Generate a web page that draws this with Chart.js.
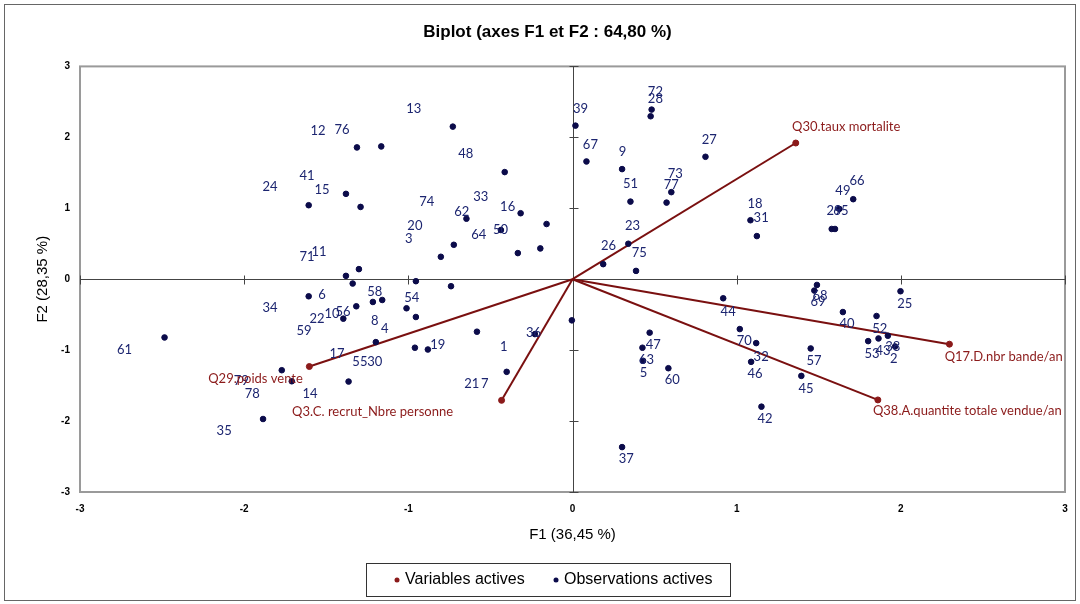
<!DOCTYPE html>
<html lang="fr">
<head>
<meta charset="UTF-8">
<title>Biplot (axes F1 et F2 : 64,80 %)</title>
<script src="https://cdn.jsdelivr.net/npm/chart.js"></script>
<style>
    html, body { margin: 0; padding: 0; background: #fff; }
</style>
</head>
<body>
<canvas id="biplot" width="1080" height="604"></canvas>
<script>
// --- Observations actives (F1, F2) ---
const obsX = [-1.607, -1.313, -1.165, -0.729, -0.413, -1.380, -1.291, -0.316, -0.646, -0.158,
              -0.436, 0.018, -0.723, -0.802, -0.333, -0.196, -1.380, -1.301, -1.339, -0.954,
              -0.740, -1.607, -2.485, -1.771, -1.710, -1.364, -1.885, -1.216, -1.159, -1.317,
              -1.396, -1.011, -0.954, -1.198, -0.960, -0.881, -0.582, -0.229, -0.004, -0.401,
              0.482, 0.476, 0.085, 0.302, 0.810, 0.602, 0.353, 0.573, 1.084, 1.123,
              1.710, 1.625, 1.579, 1.599, 0.340, 0.187, 0.387, 0.918, 1.489, 1.473,
              0.470, 0.426, 0.430, 0.584, 1.019, 1.119, 1.088, 1.451, 1.394, 1.151,
              0.302, 1.998, 1.647, 1.852, 1.801, 1.864, 1.921, 1.965];
const obsY = [1.043, 1.858, 1.872, 2.151, 1.510, 1.203, 1.019, 0.930, 0.853, 0.778,
              0.693, 2.165, 0.485, 0.316, 0.368, 0.434, 0.047, 0.142, -0.061, -0.028,
              -0.099, -0.241, -0.821, -1.283, -1.439, -1.443, -1.971, -0.321, -0.293, -0.382,
              -0.556, -0.410, -0.533, -0.887, -0.966, -0.991, -0.740, -0.774, -0.580, -1.306,
              2.391, 2.297, 1.660, 1.552, 1.726, 1.227, 1.094, 1.080, 0.831, 0.608,
              1.128, 0.991, 0.708, 0.708, 0.500, 0.212, 0.117, -0.269, -0.081, -0.160,
              -0.754, -0.966, -1.150, -1.255, -0.703, -0.901, -1.165, -0.976, -1.363, -1.797,
              -2.367, -0.170, -0.463, -0.519, -0.873, -0.835, -0.797, -0.948];

// observation labels, where they sit on the picture
const labelText = ['12', '76', '13', '41', '24', '15', '48', '33', '74', '16',
                   '62', '20', '64', '50', '3', '72', '28', '39', '67', '9',
                   '27', '73', '77', '51', '23', '18', '31', '66', '49', '29',
                   '65', '71', '11', '6', '34', '22', '59', '61', '10', '56',
                   '58', '54', '8', '4', '19', '1', '36', '17', '55', '30',
                   '26', '75', '44', '68', '69', '47', '63', '5', '60', '70',
                   '32', '46', '57', '45', '25', '40', '52', '53', '43', '38',
                   '2', '79', '78', '14', '35', '21', '7', '42', '37'];
const labelX = [-1.550, -1.404, -0.967, -1.617, -1.842, -1.526, -0.650, -0.559, -0.888, -0.395,
                -0.675, -0.960, -0.571, -0.438, -0.997, 0.505, 0.505, 0.049, 0.109, 0.304,
                0.833, 0.626, 0.602, 0.353, 0.365, 1.112, 1.149, 1.733, 1.647, 1.593,
                1.635, -1.617, -1.544, -1.526, -1.842, -1.556, -1.635, -2.729, -1.465, -1.398,
                -1.204, -0.979, -1.204, -1.143, -0.821, -0.419, -0.237, -1.435, -1.295, -1.204,
                0.219, 0.407, 0.948, 1.508, 1.495, 0.492, 0.450, 0.432, 0.608, 1.046,
                1.149, 1.112, 1.471, 1.422, 2.024, 1.672, 1.872, 1.824, 1.891, 1.951,
                1.957, -2.018, -1.951, -1.599, -2.122, -0.614, -0.535, 1.173, 0.328];
const labelY = [2.094, 2.108, 2.406, 1.457, 1.302, 1.259, 1.769, 1.160, 1.090, 1.019,
                0.948, 0.750, 0.623, 0.693, 0.566, 2.646, 2.547, 2.406, 1.896, 1.797,
                1.967, 1.486, 1.330, 1.344, 0.750, 1.061, 0.863, 1.387, 1.245, 0.962,
                0.962, 0.311, 0.382, -0.226, -0.410, -0.552, -0.722, -0.991, -0.481, -0.453,
                -0.184, -0.269, -0.580, -0.693, -0.920, -0.948, -0.750, -1.047, -1.160, -1.160,
                0.467, 0.368, -0.453, -0.241, -0.325, -0.920, -1.132, -1.316, -1.415, -0.863,
                -1.090, -1.330, -1.146, -1.542, -0.340, -0.623, -0.693, -1.047, -1.005, -0.948,
                -1.118, -1.429, -1.613, -1.613, -2.137, -1.472, -1.472, -1.967, -2.533];

// --- Variables actives ---
const varNames = ['Q30.taux mortalite', 'Q17.D.nbr bande/an', 'Q38.A.quantite totale vendue/an',
                  'Q29.poids vente', 'Q3.C. recrut_Nbre personne'];
const varX = [1.360, 2.296, 1.860, -1.603, -0.432];
const varY = [1.920, -0.916, -1.702, -1.231, -1.708];
const varLabelX = [1.337, 2.267, 1.830, -2.219, -1.708];
const varLabelY = [2.151, -1.090, -1.854, -1.401, -1.868];

const axisMin = -3;
const axisMax = 3;

const varColor = '#8b1a1a';
const obsColor = '#0b0b4a';
const obsLabelColor = '#1c2570';

const datasets = [
    {
        label: 'Variables actives',
        data: varX.map((x, i) => ({ x: x, y: varY[i] })),
        backgroundColor: varColor,
        borderColor: varColor,
        pointRadius: 3,
        showLine: false
    },
    {
        label: 'Observations actives',
        data: obsX.map((x, i) => ({ x: x, y: obsY[i] })),
        backgroundColor: obsColor,
        borderColor: obsColor,
        pointRadius: 2.8,
        showLine: false
    }
];
// one segment from the origin to each variable
varX.forEach((x, i) => {
    datasets.push({
        label: '_vec',
        data: [{ x: 0, y: 0 }, { x: x, y: varY[i] }],
        borderColor: '#7a1010',
        borderWidth: 2,
        pointRadius: 0,
        showLine: true
    });
});

const decor = {
    id: 'decor',
    beforeDraw(chart) {
        const c = chart.ctx;
        c.save();
        c.fillStyle = '#fff';
        c.fillRect(0, 0, chart.width, chart.height);
        c.strokeStyle = '#666';
        c.lineWidth = 1;
        c.strokeRect(4.5, 4.5, chart.width - 9, chart.height - 8);
        c.restore();
    },
    beforeDatasetsDraw(chart) {
        const c = chart.ctx, a = chart.chartArea;
        const xs = chart.scales.x, ys = chart.scales.y;
        c.save();
        c.strokeStyle = '#9a9a9a';
        c.lineWidth = 2;
        c.strokeRect(a.left, a.top, a.right - a.left, a.bottom - a.top);
        // axes through the origin
        const x0 = Math.round(xs.getPixelForValue(0)) + 0.5;
        const y0 = Math.round(ys.getPixelForValue(0)) + 0.5;
        c.strokeStyle = '#444';
        c.lineWidth = 1;
        c.beginPath();
        c.moveTo(x0, a.top); c.lineTo(x0, a.bottom);
        c.moveTo(a.left, y0); c.lineTo(a.right, y0);
        for (let v = axisMin; v <= axisMax; v++) {
            const py = Math.round(ys.getPixelForValue(v)) + 0.5;
            c.moveTo(x0 - 4, py); c.lineTo(x0 + 5, py);
            const px = Math.round(xs.getPixelForValue(v)) + 0.5;
            c.moveTo(px, y0 - 4); c.lineTo(px, y0 + 5);
        }
        c.stroke();
        c.restore();
    },
    afterDatasetsDraw(chart) {
        const c = chart.ctx;
        const xs = chart.scales.x, ys = chart.scales.y;
        c.save();
        c.font = '13px Lato, "Open Sans", sans-serif';
        c.textAlign = 'center';
        c.textBaseline = 'middle';
        c.fillStyle = obsLabelColor;
        labelText.forEach((t, i) => {
            c.fillText(t, xs.getPixelForValue(labelX[i]), ys.getPixelForValue(labelY[i]));
        });
        c.textAlign = 'left';
        c.fillStyle = varColor;
        varNames.forEach((t, i) => {
            c.fillText(t, xs.getPixelForValue(varLabelX[i]), ys.getPixelForValue(varLabelY[i]));
        });
        c.restore();
    },
    afterDraw(chart) {
        // legend in a box under the plot
        const c = chart.ctx;
        const box = { left: 366.5, top: 563.5, width: 364, height: 33 };
        c.save();
        c.strokeStyle = '#333';
        c.lineWidth = 1;
        c.strokeRect(box.left, box.top, box.width, box.height);
        c.font = '16px "Liberation Sans", Arial, sans-serif';
        c.textBaseline = 'middle';
        c.textAlign = 'left';
        const cy = box.top + box.height / 2;
        const items = chart.data.datasets.filter(d => d.label !== '_vec');
        const startX = [397, 556];
        items.forEach((d, i) => {
            c.fillStyle = d.backgroundColor;
            c.beginPath();
            c.arc(startX[i], cy, 2.5, 0, Math.PI * 2);
            c.fill();
            c.fillStyle = '#000';
            c.fillText(d.label, startX[i] + 8, cy);
        });
        c.restore();
    }
};

const tickFont = { family: '"Liberation Sans", Arial, sans-serif', size: 10, weight: 'bold' };
const titleFont = { family: '"Liberation Sans", Arial, sans-serif', size: 15 };

new Chart(document.getElementById('biplot'), {
    type: 'scatter',
    data: { datasets: datasets },
    options: {
        responsive: false,
        animation: false,
        layout: { padding: { left: 30, right: 15, top: 0, bottom: 52 } },
        plugins: {
            legend: { display: false },
            tooltip: { enabled: false },
            title: {
                display: true,
                text: 'Biplot (axes F1 et F2 : 64,80 %)',
                color: '#000',
                font: { family: '"Liberation Sans Narrow", "Arial Narrow", sans-serif', size: 17, weight: 'bold' },
                padding: { top: 22, bottom: 24 }
            }
        },
        scales: {
            x: {
                type: 'linear',
                min: axisMin,
                max: axisMax,
                ticks: { stepSize: 1, color: '#000', font: tickFont, padding: 11 },
                grid: { display: false, drawTicks: false },
                border: { display: false },
                title: { display: true, text: 'F1 (36,45 %)', color: '#000', font: titleFont, padding: { top: 2, bottom: 8 } },
                afterFit(scale) { scale.height = 60; }
            },
            y: {
                type: 'linear',
                min: axisMin,
                max: axisMax,
                ticks: { stepSize: 1, color: '#000', font: tickFont, padding: 10 },
                grid: { display: false, drawTicks: false },
                border: { display: false },
                title: { display: true, text: 'F2 (28,35 %)', color: '#000', font: titleFont, padding: { top: 4 } },
                afterFit(scale) { scale.width = 50; }
            }
        }
    },
    plugins: [decor]
});
</script>
</body>
</html>
